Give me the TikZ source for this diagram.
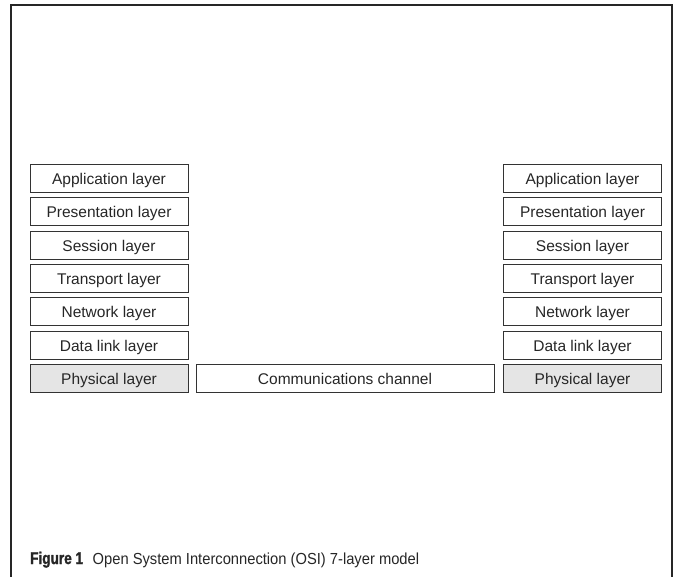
\documentclass[tikz,border=0pt]{standalone}
\usepackage{fontspec}
\setmainfont{Liberation Sans}
\begin{document}
\begin{tikzpicture}[x=1pt,y=-1pt,
  layer/.style={draw=black!80, line width=0.9pt, minimum width=158pt, minimum height=28pt, inner sep=0pt, text height=15pt, text depth=3pt, font=\fontsize{15.5}{17}\selectfont, text=black!85},
  phys/.style={layer, fill=black!10},
  frame/.style={draw=black!85, line width=2.2pt}]
\useasboundingbox (0,0) rectangle (679,576);
\draw[frame] (11,580) -- (11,5) -- (672,5) -- (672,580);
\foreach \n/\t [count=\i from 0] in {app/Application layer,pres/Presentation layer,sess/Session layer,trans/Transport layer,net/Network layer,data/Data link layer}{
  \node[layer] (L\n) at (109,{178.5+33.3*\i}) {\t};
  \node[layer] (R\n) at (582.5,{178.5+33.3*\i}) {\t};
}
\node[phys] (Lphys) at (109,378) {Physical layer};
\node[phys] (Rphys) at (582.5,378) {Physical layer};
\node[layer, minimum width=298pt] (chan) at (345,378) {Communications channel};
\node[anchor=base west, inner sep=0pt, font=\fontsize{16}{18}\selectfont, text=black!85] (cap) at (30,564) {{\bfseries\addfontfeature{FakeStretch=0.8,FakeBold=1.6}\fontsize{17}{18}\selectfont Figure 1}\hspace{0.6em}{\addfontfeature{FakeStretch=0.92}Open System Interconnection (OSI) 7-layer model}};
\end{tikzpicture}
\end{document}
